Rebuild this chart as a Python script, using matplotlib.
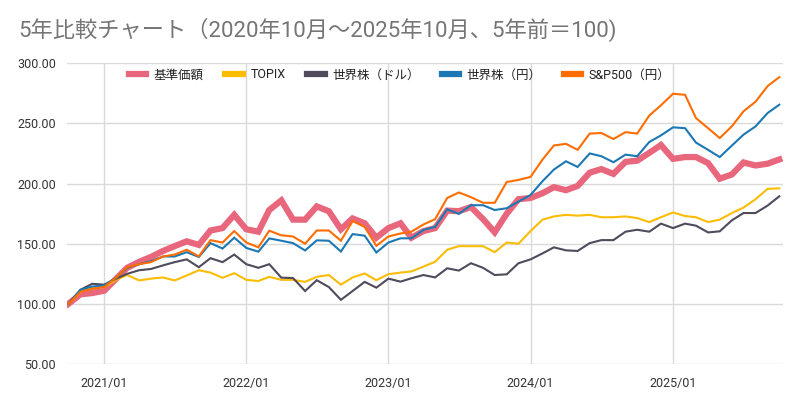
import matplotlib
matplotlib.use('Agg')
import matplotlib.pyplot as plt
import matplotlib.dates as mdates
import matplotlib.ticker as mticker
import pandas as pd

plt.rcParams['font.family'] = ['Roboto', 'Noto Sans CJK JP', 'DejaVu Sans']

# 月次データ（2020/10 ～ 2025/10、5年前 = 100）
months = pd.date_range('2020-10-01', periods=61, freq='MS')

kijun = [100, 108, 109, 111, 121, 130, 135, 139, 144, 148,
         152, 149, 161, 163, 174, 162, 160, 178, 186, 170,
         170, 181, 177, 162, 171, 167, 155, 163, 167, 155,
         160.5, 163, 177.5, 177, 180.5, 170.5, 159.5, 175, 187, 188,
         192, 197, 194.5, 198, 209, 212, 208, 218, 219, 225.5,
         232, 220.5, 222, 222, 217, 204, 207.5, 217.5, 215, 216.5,
         220]
topix = [100, 110, 113, 114, 120, 124, 119.5, 121, 122, 119.5,
         123.6, 128, 126, 121.7, 125.5, 120, 119, 122.5, 120, 120,
         118.3, 122.5, 124, 116, 122, 125.3, 119.7, 124.7, 126, 127,
         131, 135, 145, 148, 148, 148, 143, 151, 150, 160.5,
         170, 172.7, 174, 173.3, 174, 172, 172, 172.7, 171.3, 168,
         172, 176, 173, 172, 168, 170, 175.5, 180, 187, 195.6,
         196]
world_usd = [100, 111.7, 116.7, 116, 121, 125, 128, 129, 132, 134.7,
             137, 130.5, 138, 134.7, 141, 133, 130, 133, 121.8, 121.5,
             110.7, 119.7, 114, 103.4, 110.7, 118.3, 113.5, 121, 118.5, 121.3,
             124, 122, 129.6, 127.7, 133.8, 130, 124, 124.6, 133.8, 137,
             142, 147, 144.5, 144, 150.5, 153, 153, 160, 161.6, 160,
             166.7, 163, 166.7, 165, 159.4, 160.3, 169.4, 175.5, 175.5, 181.7,
             189.4]
world_jpy = [100, 111.7, 114.4, 115.3, 122, 130, 133, 135.5, 139.4, 139.4,
             143, 139, 150.5, 146, 155, 146.5, 143.4, 154.4, 152.5, 150.5,
             144.4, 152.8, 152.5, 143.5, 158, 156.7, 142.7, 151, 154.5, 154.5,
             161.5, 164, 178.6, 174.8, 182, 182, 178, 179.5, 185, 190.5,
             202, 211.6, 218.5, 213.8, 225, 222.7, 217.7, 224, 222.7, 234.5,
             240, 246.7, 246, 234, 228, 222, 231.5, 240.6, 247.5, 258.6,
             265.5]
sp500_jpy = [100, 110, 112.5, 114, 122, 130.5, 133, 134.7, 139.4, 141,
             145, 139.5, 153, 151, 160.5, 151, 147, 160.8, 157, 156,
             150, 161, 161, 152.5, 168.8, 164, 148.3, 156, 158.5, 160,
             166, 170.4, 188, 192.6, 188.7, 184, 184, 201.3, 203, 205.5,
             220, 231.6, 233, 228, 241.5, 242, 237, 242.7, 241.5, 256.5,
             265, 274.6, 273.7, 254.4, 246, 237.8, 247.5, 260, 268, 281,
             288.4]

series = [
    ('基準価額', kijun, '#e8677d', 4.5),
    ('TOPIX', topix, '#fbbc04', 1.5),
    ('世界株（ドル）', world_usd, '#4f4a5c', 1.5),
    ('世界株（円）', world_jpy, '#1c78b4', 1.5),
    ('S&P500（円）', sp500_jpy, '#ff6d00', 1.5),
]

fig = plt.figure(figsize=(8, 4.05), dpi=100)
ax = fig.add_axes([0.084, 0.101, 0.895, 0.743])

for name, vals, col, lw in series:
    ax.plot(months, vals, color=col, lw=lw, label=name, solid_joinstyle='miter')

ax.set_ylim(50, 300)
ax.set_xlim(months[0] - pd.Timedelta(days=3), months[-1] + pd.Timedelta(days=10))
ax.yaxis.set_major_locator(mticker.MultipleLocator(50))
ax.yaxis.set_major_formatter(mticker.FormatStrFormatter('%.2f'))
ax.xaxis.set_major_locator(mdates.MonthLocator(bymonth=1))
ax.xaxis.set_major_formatter(mdates.DateFormatter('%Y/%m'))

ax.grid(True, color='#dadada', lw=1)
ax.set_axisbelow(True)
for s in ax.spines.values():
    s.set_visible(False)
ax.tick_params(length=0, labelsize=9, labelcolor='#333333')
ax.tick_params(axis='x', pad=9)
ax.tick_params(axis='y', pad=8)

leg = ax.legend(loc='upper left', bbox_to_anchor=(0.07, 1.02), ncol=5, frameon=False,
                fontsize=9, handlelength=1.4, handletextpad=0.6, columnspacing=1.75)
for line in leg.get_lines():
    line.set_linewidth(4.5)
for t in leg.get_texts():
    t.set_color('#222222')

fig.text(0.0225, 0.926, '5年比較チャート（2020年10月～2025年10月、5年前＝100)',
         fontsize=16, color='#757575', va='center')

fig.savefig('out.png', dpi=100)
